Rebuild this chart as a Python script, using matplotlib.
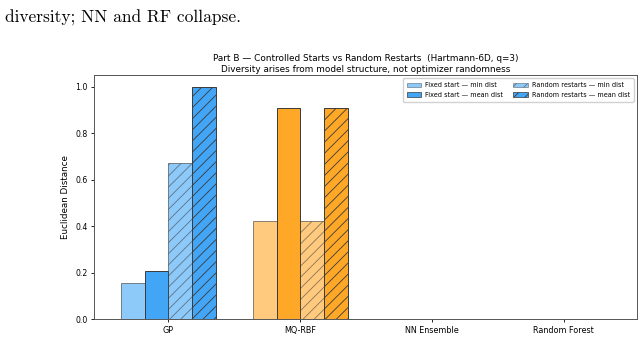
import matplotlib
matplotlib.use("Agg")
import matplotlib.pyplot as plt
import numpy as np
from matplotlib.patches import Patch

models = ["GP", "MQ-RBF", "NN Ensemble", "Random Forest"]
fixed_min = [0.157, 0.421, 0.0, 0.0]
fixed_mean = [0.208, 0.908, 0.0, 0.0]
random_min = [0.673, 0.421, 0.0, 0.0]
random_mean = [1.0, 0.908, 0.0, 0.0]
model_colors = ["#42A5F5", "#FFA726", "#66BB6A", "#AB47BC"]
series_labels = ["Fixed start — min dist", "Fixed start — mean dist",
                 "Random restarts — min dist", "Random restarts — mean dist"]

plt.rcParams["hatch.linewidth"] = 0.6

fig = plt.figure(figsize=(6.44, 3.61), dpi=100)
ax = fig.add_axes([94 / 644, 1 - 319.3 / 361, (637 - 94) / 644, (319.3 - 75) / 361])

x = np.arange(len(models))
w = 0.18
series = [fixed_min, fixed_mean, random_min, random_mean]
alphas = [0.6, 1.0, 0.6, 1.0]
hatches = [None, None, "///", "///"]
for k, vals in enumerate(series):
    for i, v in enumerate(vals):
        if v <= 0:
            continue
        ax.bar(x[i] + (k - 1.5) * w, v, w, color=model_colors[i], alpha=alphas[k],
               edgecolor="#3a3a3a", linewidth=0.7, hatch=hatches[k])

ax.set_xlim(-0.565, 3.555)
ax.set_ylim(0, 1.05)
ax.set_xticks(x)
ax.set_xticklabels(models, fontsize=5.8)
ax.set_yticks([0, 0.2, 0.4, 0.6, 0.8, 1.0])
ax.tick_params(axis="y", labelsize=5.6, length=2.5, width=0.6, pad=2)
ax.tick_params(axis="x", length=2.5, width=0.6, pad=2)
for s in ax.spines.values():
    s.set_linewidth(0.7)
    s.set_color("#555555")
ax.set_ylabel("Euclidean Distance", fontsize=6.3, labelpad=4)
ax.set_title("Part B — Controlled Starts vs Random Restarts  (Hartmann-6D, q=3)\n"
             "Diversity arises from model structure, not optimizer randomness",
             fontsize=6.4, pad=2.5, linespacing=1.15)

handles = [Patch(facecolor=model_colors[0], alpha=alphas[k], edgecolor="#3a3a3a",
                 linewidth=0.5, hatch=hatches[k], label=series_labels[k]) for k in range(4)]
ax.legend(handles=handles, ncol=2, fontsize=4.7, loc="upper right",
          handlelength=2.2, handleheight=0.7, columnspacing=1.6, borderpad=0.6,
          labelspacing=0.55, handletextpad=0.6, framealpha=0.9)

fig.text(5 / 644, 1 - 23 / 361, "diversity; NN and RF collapse.", family="cmr10",
         fontsize=12.5, va="baseline", ha="left")

fig.savefig("out.png", dpi=100)
